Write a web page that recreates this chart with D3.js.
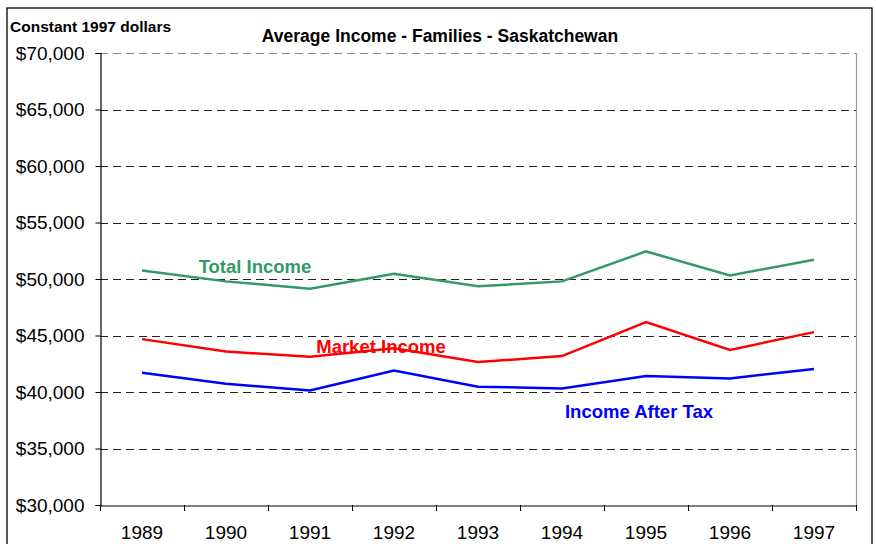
<!DOCTYPE html>
<html>
<head>
<meta charset="utf-8">
<script src="https://cdn.jsdelivr.net/npm/d3@7"></script>
<style>
  html, body { margin: 0; padding: 0; background: #fff; }
  svg { display: block; }
  text { font-family: "Liberation Sans", Arial, sans-serif; }
</style>
</head>
<body>
<svg id="chart" width="876" height="544"></svg>
<script>
const years = ["1989","1990","1991","1992","1993","1994","1995","1996","1997"];
const totalIncome    = [50760, 49790, 49140, 50470, 49350, 49790, 52440, 50320, 51710];
const marketIncome   = [44680, 43580, 43120, 43880, 42650, 43180, 46190, 43730, 45300];
const incomeAfterTax = [41710, 40730, 40140, 41910, 40470, 40320, 41420, 41200, 42040];
const yTicks = [30000, 35000, 40000, 45000, 50000, 55000, 60000, 65000, 70000];
const seriesNames = ["Total Income", "Market Income", "Income After Tax"];
const chartTitle = "Average Income - Families - Saskatchewan";
const unitLabel = "Constant 1997 dollars";

(function () {
const series = [
  { name: seriesNames[0], values: totalIncome,    color: "#339966", lx: 255, ly: 273 },
  { name: seriesNames[1], values: marketIncome,   color: "#ff0000", lx: 381, ly: 353 },
  { name: seriesNames[2], values: incomeAfterTax, color: "#0000ff", lx: 639, ly: 418 }
];

const svg = d3.select("#chart");
const pLeft = 100, pRight = 856, pTop = 53, pBottom = 505;

// outer border
svg.append("rect").attr("x", 7).attr("y", 8).attr("width", 865).attr("height", 560)
  .attr("fill", "none").attr("stroke", "#000").attr("stroke-width", 1.3);

const x = d3.scaleBand().domain(years).range([pLeft, pRight]).padding(0);
const y = d3.scaleLinear().domain([30000, 70000]).range([pBottom, pTop]);

// gridlines
svg.append("g").selectAll("line").data(yTicks.filter(d => d > 30000)).join("line")
  .attr("x1", pLeft).attr("x2", pRight)
  .attr("y1", d => Math.round(y(d)) + 0.5).attr("y2", d => Math.round(y(d)) + 0.5)
  .attr("stroke", d => d === 70000 ? "#888" : "#222")
  .attr("stroke-width", 1)
  .attr("stroke-dasharray", "8,5");

// right border of plot area
svg.append("line").attr("x1", pRight + 0.5).attr("x2", pRight + 0.5)
  .attr("y1", pTop).attr("y2", pBottom).attr("stroke", "#999").attr("stroke-width", 1.2);

// y axis
const yAxis = d3.axisLeft(y).tickValues(yTicks).tickSize(5).tickPadding(11)
  .tickFormat(d => "$" + d3.format(",")(d));
const gy = svg.append("g").attr("transform", `translate(${pLeft + 0.5},0)`).call(yAxis);
gy.select(".domain").attr("stroke", "#000").attr("stroke-width", 1.2);
gy.selectAll(".tick line").attr("stroke", "#000");
gy.selectAll(".tick text").attr("font-size", "19px").attr("fill", "#000")
  .style("font-family", '"Liberation Sans", Arial, sans-serif');

// x axis: labels at band centers, ticks at band boundaries
const xAxis = d3.axisBottom(x).tickSize(0).tickPadding(20);
const gx = svg.append("g").attr("transform", `translate(0,${pBottom + 0.5})`).call(xAxis);
gx.select(".domain").attr("stroke", "#000").attr("stroke-width", 1.2);
gx.selectAll(".tick text").attr("font-size", "19px").attr("fill", "#000")
  .style("font-family", '"Liberation Sans", Arial, sans-serif');
const boundaries = years.map(d => x(d)).concat([x(years[years.length - 1]) + x.bandwidth()]);
svg.append("g").selectAll("line").data(boundaries).join("line")
  .attr("x1", d => Math.round(d) + 0.5).attr("x2", d => Math.round(d) + 0.5)
  .attr("y1", pBottom).attr("y2", pBottom + 6)
  .attr("stroke", "#000").attr("stroke-width", 1);

// lines
const line = d3.line()
  .x((d, i) => x(years[i]) + x.bandwidth() / 2)
  .y(d => y(d));
series.forEach(s => {
  svg.append("path").datum(s.values)
    .attr("d", line)
    .attr("fill", "none")
    .attr("stroke", s.color)
    .attr("stroke-width", 2.5)
    .attr("stroke-linejoin", "miter");
});

// series labels
series.forEach(s => {
  svg.append("text").attr("x", s.lx).attr("y", s.ly)
    .attr("text-anchor", "middle")
    .attr("font-size", "18.5px").attr("font-weight", "bold")
    .attr("fill", s.color).text(s.name);
});

// titles
svg.append("text").attr("x", 440).attr("y", 41.5).attr("text-anchor", "middle")
  .attr("font-size", "17.5px").attr("font-weight", "bold").attr("fill", "#000")
  .text(chartTitle);
svg.append("text").attr("x", 10).attr("y", 32).attr("text-anchor", "start")
  .attr("font-size", "15.5px").attr("font-weight", "bold").attr("fill", "#000")
  .text(unitLabel);
})();
</script>
</body>
</html>
